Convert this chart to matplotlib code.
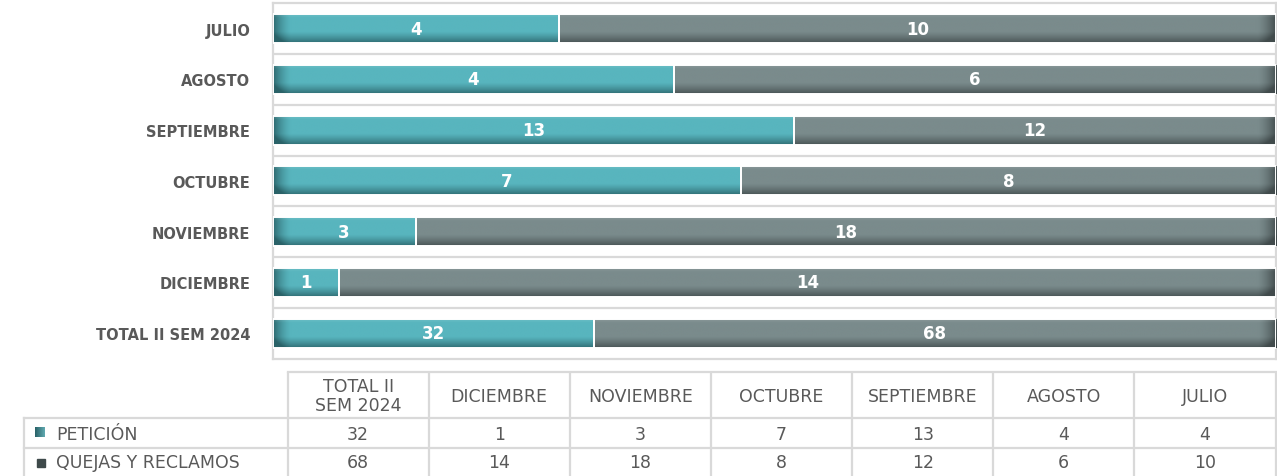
import numpy as np
import matplotlib
matplotlib.use("Agg")
import matplotlib.pyplot as plt
from matplotlib.patches import Rectangle
from matplotlib.colors import to_rgb

# ---------------- data ----------------
categories = ["TOTAL II SEM 2024", "DICIEMBRE", "NOVIEMBRE", "OCTUBRE",
              "SEPTIEMBRE", "AGOSTO", "JULIO"]
table_headers = ["TOTAL II\nSEM 2024", "DICIEMBRE", "NOVIEMBRE", "OCTUBRE",
                 "SEPTIEMBRE", "AGOSTO", "JULIO"]
peticion = [32, 1, 3, 7, 13, 4, 4]
quejas = [68, 14, 18, 8, 12, 6, 10]
series_names = ["PETICIÓN", "QUEJAS Y RECLAMOS"]

# ---------------- style ----------------
TEAL = "#58B5BE"
TEAL_DARK = "#2A6268"
GRAY = "#7A8B8C"
GRAY_DARK = "#414B4C"
GRID = "#D9D9D9"
TXT = "#595959"

W, H = 1277, 477
fig = plt.figure(figsize=(W / 100, H / 100), dpi=100)

ax_l, ax_r, ax_t, ax_b = 272.5, 1276, 4.3, 359.5
ax = fig.add_axes([ax_l / W, 1 - ax_b / H, (ax_r - ax_l) / W, (ax_b - ax_t) / H])

tot = np.array(peticion, float) + np.array(quejas, float)
p_frac = np.array(peticion) / tot
q_frac = np.array(quejas) / tot
y = np.arange(len(categories))
bh = 0.57

bars_p = ax.barh(y, p_frac, height=bh, color=TEAL, edgecolor="white",
                 linewidth=1.4, zorder=3)
bars_q = ax.barh(y, q_frac, left=p_frac, height=bh, color=GRAY,
                 edgecolor="white", linewidth=1.4, zorder=3)

ax.set_xlim(0, 1)
ax.set_ylim(-0.5, len(categories) - 0.5)

px_per_x = (ax_r - ax_l)


def shade(patch, base, dark, side):
    x0, y0 = patch.get_x(), patch.get_y()
    w, h = patch.get_width(), patch.get_height()
    nx, ny = 400, 60
    b = np.array(to_rgb(base))
    d = np.array(to_rgb(dark))
    xs = np.linspace(0, 1, nx) * w * px_per_x
    ys = np.linspace(0, 1, ny)  # 0 = top of bar
    edge_px = 18.0
    if side == "left":
        hx = np.clip(1 - xs / edge_px, 0, 1) ** 1.5
    else:
        hx = np.clip(1 - (w * px_per_x - xs) / edge_px, 0, 1) ** 1.5
    vy = np.clip((ys - 0.6) / 0.4, 0, 1) ** 1.2
    t = np.clip(hx[None, :] * 0.9 + vy[:, None] * 0.85, 0, 1)
    img = b[None, None, :] * (1 - t[..., None]) + d[None, None, :] * t[..., None]
    # slight highlight on top rows
    top = np.clip(1 - ys / 0.12, 0, 1)[:, None, None] * 0.12
    img = img * (1 - top) + top
    im = ax.imshow(img, extent=(x0, x0 + w, y0, y0 + h), origin="upper",
                   aspect="auto", zorder=3.5, interpolation="bilinear")
    im.set_clip_path(patch)


for p in bars_p:
    shade(p, TEAL, TEAL_DARK, "left")
for p in bars_q:
    shade(p, GRAY, GRAY_DARK, "right")

for p in list(bars_p) + list(bars_q):
    ax.add_patch(Rectangle((p.get_x(), p.get_y()), p.get_width(), p.get_height(),
                           fill=False, edgecolor="white", linewidth=1.4, zorder=4))

ax.set_xlim(0, 1)
ax.set_ylim(-0.5, len(categories) - 0.5)

for i in range(len(categories)):
    ax.text(p_frac[i] / 2, y[i], str(peticion[i]), ha="center", va="center",
            color="white", fontsize=12, fontweight="bold", zorder=5,
            family="DejaVu Sans")
    ax.text(p_frac[i] + q_frac[i] / 2, y[i], str(quejas[i]), ha="center",
            va="center", color="white", fontsize=12, fontweight="bold", zorder=5,
            family="DejaVu Sans")

ax.set_yticks(y)
ax.set_yticklabels(categories, fontsize=10.5, fontweight="bold", color=TXT,
                   family="DejaVu Sans")
ax.tick_params(axis="y", length=0, pad=16)
ax.set_xticks([])
ax.set_yticks(np.arange(len(categories) - 1) + 0.5, minor=True)
ax.tick_params(axis="y", which="minor", length=0)
ax.grid(axis="y", which="minor", color=GRID, linewidth=1.6, zorder=0)
ax.set_axisbelow(True)
for s in ax.spines.values():
    s.set_color(GRID)
    s.set_linewidth(1.6)

# ---------------- data table ----------------
tax = fig.add_axes([0, 0, 1, 1])
tax.axis("off")
tax.patch.set_alpha(0)

lab_l = 23.5
col0 = 287.5
col_r = 1275.5
ncol = len(table_headers)
cw = (col_r - col0) / ncol
row_y = [372.7, 418.8, 449.0, 480.0]
lw = 1.6

for j in range(ncol + 1):
    xx = col0 + j * cw
    tax.plot([xx, xx], [row_y[0], row_y[3]], color=GRID, lw=lw, solid_capstyle="butt")
tax.plot([lab_l, lab_l], [row_y[1], row_y[3]], color=GRID, lw=lw)
tax.plot([col0, col_r], [row_y[0], row_y[0]], color=GRID, lw=lw)
tax.plot([lab_l, col_r], [row_y[1], row_y[1]], color=GRID, lw=lw)
tax.plot([lab_l, col_r], [row_y[2], row_y[2]], color=GRID, lw=lw)

tfont = dict(family="DejaVu Sans", fontsize=12.5, color=TXT)
for j, hdr in enumerate(table_headers):
    cx = col0 + (j + 0.5) * cw
    tax.text(cx, (row_y[0] + row_y[1]) / 2 + 1, hdr, ha="center", va="center",
             linespacing=1.1, **tfont)
    tax.text(cx, (row_y[1] + row_y[2]) / 2 + 1, str(peticion[j]), ha="center",
             va="center", **tfont)
    tax.text(cx, 463, str(quejas[j]), ha="center", va="center", **tfont)

grad = np.linspace(0, 1, 20)[None, :, None]
c_lo = np.array(to_rgb(TEAL_DARK))
c_hi = np.array(to_rgb("#5FA9B0"))
tax.imshow(c_lo + grad * (c_hi - c_lo), extent=(35, 45, 438, 428),
           aspect="auto", zorder=2)
tax.add_patch(Rectangle((36.5, 460), 8, 8, color="#3E494A"))
tax.set_xlim(0, W)
tax.set_ylim(H, 0)
tax.text(56, (row_y[1] + row_y[2]) / 2 + 1, series_names[0], ha="left",
         va="center", **tfont)
tax.text(56, 463, series_names[1], ha="left", va="center", **tfont)

fig.savefig("out.png", dpi=100)
